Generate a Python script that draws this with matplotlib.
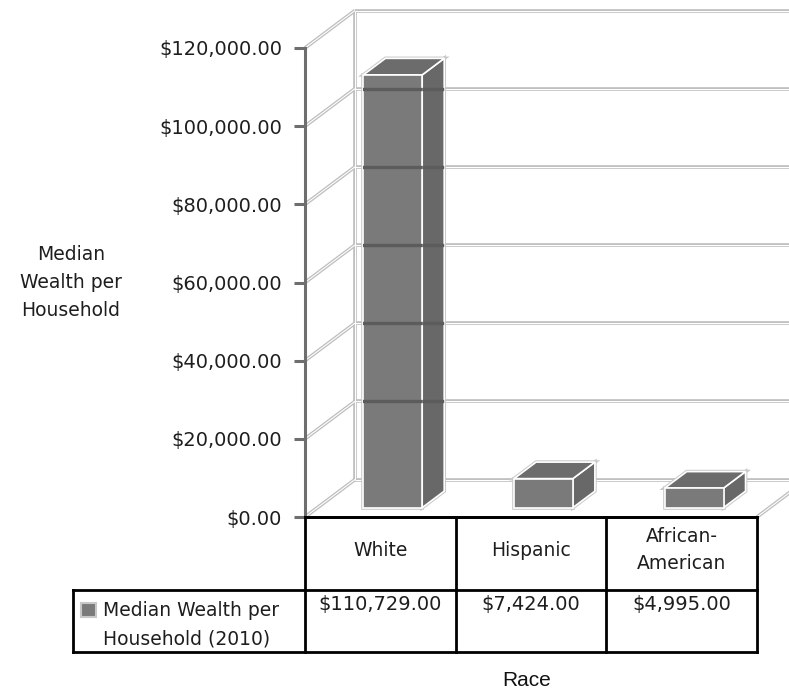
import numpy as np
import matplotlib
matplotlib.use('Agg')
import matplotlib.pyplot as plt
import matplotlib.patches as mpatches
from matplotlib.ticker import FuncFormatter

### data ##############################
races = ['White', 'Hispanic', 'African-\nAmerican']
wealth = [110729.0, 7424.0, 4995.0]
series_name = 'Median Wealth per\nHousehold (2010)'
yticks = [0, 20000, 40000, 60000, 80000, 100000, 120000]
#######################################

W, H = 789, 692
fig = plt.figure(figsize=(W / 100, H / 100), dpi=100)

def figbox(x0, y0, x1, y1):
    # pixel box (top-left origin) -> figure fraction rect
    return [x0 / W, 1 - y1 / H, (x1 - x0) / W, (y1 - y0) / H]

# front plane of the chart
ax = fig.add_axes(figbox(305, 48, 757, 517))
ax.set_xlim(-0.5, 2.5)
ax.set_ylim(0, 120000)
ax.patch.set_alpha(0)

px_per_cat = 452 / 3.0
px_per_val = 469 / 120000.0
DX = 50 / px_per_cat      # full depth shift, category units
DY = 37.5 / px_per_val    # full depth shift, value units

def proj(x, y, d):
    return x + d * DX, y + d * DY

def groove(xs, ys, z=1):
    ax.plot(xs, ys, color='#bdbdbd', lw=2.6, zorder=z, clip_on=False, solid_capstyle='butt')
    ax.plot(xs, ys, color='white', lw=0.8, zorder=z + 0.1, clip_on=False, solid_capstyle='butt')

# back wall + side wall + floor
bx, _ = proj(-0.5, 0, 1)
groove([bx, bx], [DY, 120000 + DY])
for t in yticks:
    groove([-0.5, bx], [t, t + DY])
    groove([bx, 3.2], [t + DY, t + DY])
groove([2.5, 2.5 + DX], [0, DY])

# 3d bars
bw = 0.39
d0, d1 = 0.25, 0.69
for i, v in enumerate(wealth):
    xl, xr = i - bw / 2, i + bw / 2
    front = [proj(xl, 0, d0), proj(xr, 0, d0), proj(xr, v, d0), proj(xl, v, d0)]
    side = [proj(xr, 0, d0), proj(xr, 0, d1), proj(xr, v, d1), proj(xr, v, d0)]
    top = [proj(xl, v, d0), proj(xr, v, d0), proj(xr, v, d1), proj(xl, v, d1)]
    for poly, col in [(side, '#686868'), (top, '#6c6c6c'), (front, '#7a7a7a')]:
        ax.add_patch(mpatches.Polygon(poly, closed=True, fc='none', ec='#c8c8c8',
                                      lw=2.6, zorder=2.8, clip_on=False))
        p = mpatches.Polygon(poly, closed=True, fc=col, ec='white', lw=1.2,
                             zorder=3, clip_on=False)
        ax.add_patch(p)
        if poly is top:
            continue
        # back grid showing through the bar
        for t in yticks[1:]:
            ln, = ax.plot([bx, 3.2], [t + DY, t + DY], color='#5c5c5c', lw=2.4,
                          zorder=3.05)
            ln.set_clip_path(p)

# axis
ax.set_xticks([])
ax.set_yticks(yticks)
ax.yaxis.set_major_formatter(FuncFormatter(lambda v, pos: '${:,.2f}'.format(v)))
ax.tick_params(axis='y', length=8, width=2.2, color='#6e6e6e', pad=8.5,
               labelsize=14, labelcolor='#1e1e1e')
for s in ['top', 'right']:
    ax.spines[s].set_visible(False)
ax.spines['left'].set_color('#6e6e6e')
ax.spines['left'].set_linewidth(2.2)
ax.spines['left'].set_zorder(4)
ax.spines['bottom'].set_color('black')
ax.spines['bottom'].set_linewidth(2)
ax.spines['bottom'].set_zorder(4)

fig.text(71 / W, 1 - 283 / H, 'Median\nWealth per\nHousehold', ha='center', va='center',
         multialignment='center', fontsize=13.5, linespacing=1.6, color='#1e1e1e')

# data table under the chart
tax = fig.add_axes(figbox(73, 517, 757, 652))
left = -0.5 - (305 - 73) / px_per_cat
tax.set_xlim(left, 2.5)
tax.set_ylim(1, 0)
tax.axis('off')
hdr = (590 - 517) / 135.0
kw = dict(color='black', lw=2, clip_on=False, solid_capstyle='projecting')
tax.plot([-0.5, 2.5], [0, 0], **kw)
tax.plot([left, 2.5], [hdr, hdr], **kw)
tax.plot([left, 2.5], [1, 1], **kw)
tax.plot([left, left], [hdr, 1], **kw)
for xb in [-0.5, 0.5, 1.5, 2.5]:
    tax.plot([xb, xb], [0, 1], **kw)

for i, (r, v) in enumerate(zip(races, wealth)):
    tax.text(i, 0.245, r, ha='center', va='center', fontsize=13.5, linespacing=1.5,
             color='#1e1e1e')
    tax.text(i, 0.65, '${:,.2f}'.format(v), ha='center', va='center', fontsize=14,
             color='#1e1e1e')

tax.text(left + 30 / px_per_cat, 0.8, series_name, ha='left', va='center',
         fontsize=13.5, linespacing=1.6, color='#1e1e1e')
fig.patches.append(mpatches.Rectangle((81 / W, 1 - 617 / H), 15 / W, 14 / H,
                                      transform=fig.transFigure, fc='#7a7a7a',
                                      ec='#c8c8c8', lw=1.5, figure=fig))

fig.text(527 / W, 1 - 680 / H, 'Race', ha='center', va='center', fontsize=15,
         family='Liberation Sans', color='#111111')

fig.savefig('out.png', dpi=100, facecolor='white')
